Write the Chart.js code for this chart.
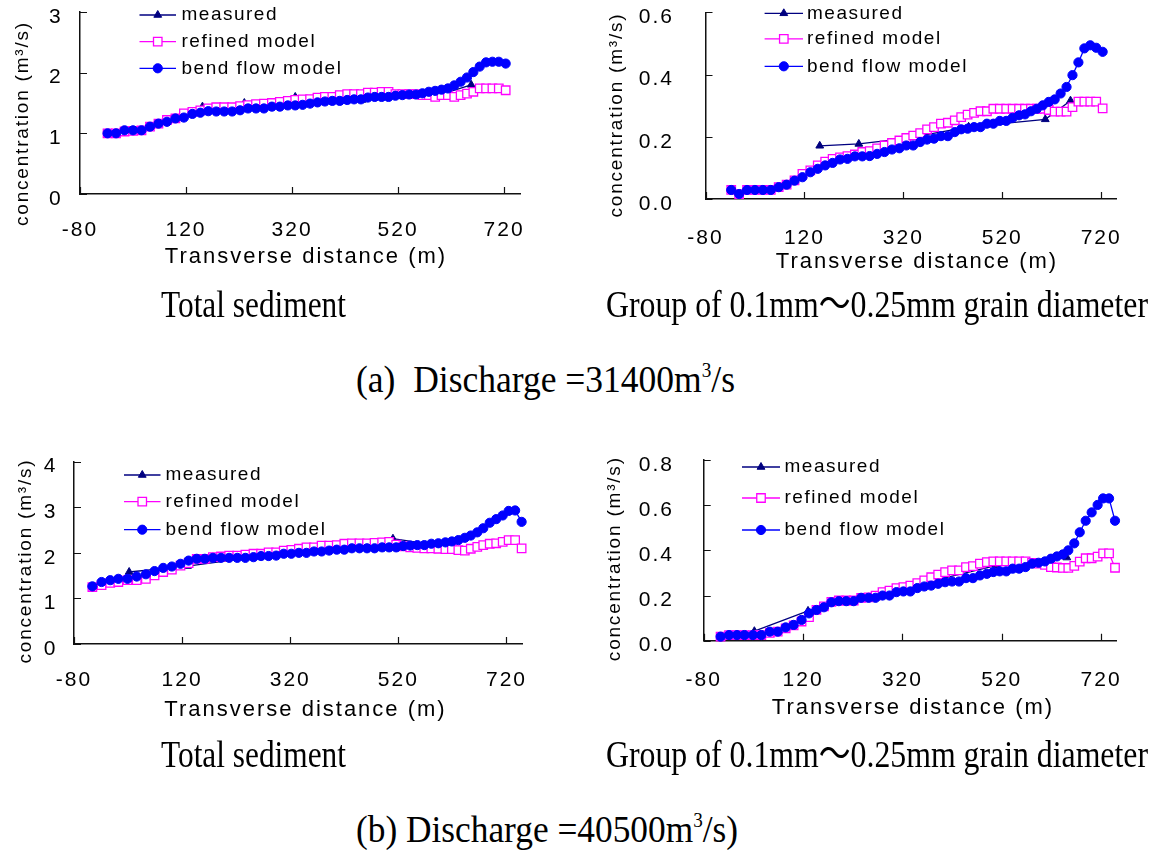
<!DOCTYPE html>
<html>
<head>
<meta charset="utf-8">
<script src="https://cdn.jsdelivr.net/npm/chart.js@4.4.1/dist/chart.umd.min.js"></script>
<style>
html, body { margin: 0; padding: 0; background: #fff; }
#page { position: relative; width: 1156px; height: 850px; overflow: hidden; }
canvas.plot { position: absolute; }
.cap {
    position: absolute;
    font-family: "Liberation Serif", "Noto Sans CJK SC", serif;
    font-size: 37px;
    line-height: 37px;
    white-space: nowrap;
    color: #000;
    transform-origin: 0 0;
}
.cap sup { font-size: 20px; line-height: 0; vertical-align: 0; position: relative; top: -15px; }
</style>
</head>
<body>
<div id="page">
    <canvas id="c1" class="plot" width="578" height="285" style="left:0;top:0"></canvas>
    <canvas id="c2" class="plot" width="578" height="285" style="left:578px;top:0"></canvas>
    <canvas id="c3" class="plot" width="578" height="285" style="left:0;top:450px"></canvas>
    <canvas id="c4" class="plot" width="578" height="285" style="left:578px;top:450px"></canvas>

    <div class="cap" data-w="185" style="left:161px;top:286px">Total sediment</div>
    <div class="cap" data-w="542" style="left:606px;top:286px">Group of 0.1mm～0.25mm grain diameter</div>
    <div class="cap" data-w="379" style="left:356px;top:361px">(a)&nbsp; Discharge =31400m<sup>3</sup>/s</div>
    <div class="cap" data-w="185" style="left:161px;top:736px">Total sediment</div>
    <div class="cap" data-w="542" style="left:606px;top:736px">Group of 0.1mm～0.25mm grain diameter</div>
    <div class="cap" data-w="382" style="left:356px;top:811px">(b) Discharge =40500m<sup>3</sup>/s)</div>
</div>

<script>
// Tick values
const xTicks = [-80, 120, 320, 520, 720];
const yTicksTotalA = [0, 1, 2, 3];
const yTicksGroupA = [0, 0.2, 0.4, 0.6];
const yTicksTotalB = [0, 1, 2, 3, 4];
const yTicksGroupB = [0, 0.2, 0.4, 0.6, 0.8];

// Transverse positions (m) of the model nodes and of the measured verticals
const modelXA = [-28, -12, 4, 20, 36, 52, 68, 84, 100, 116, 132, 147, 162, 177, 192, 207, 222, 237, 252, 267,
    282, 297, 312, 326, 340, 354, 368, 382, 396, 410, 424, 437, 450, 463, 476, 489, 502, 515, 528, 541,
    554, 566, 578, 590, 602, 614, 626, 638, 650, 662, 674, 686, 698, 710, 723];
const modelXB = [-46, -29, -13, 2, 19, 36, 53, 69, 85, 101, 117, 132, 147, 162, 177, 192, 207, 222, 237, 252,
    266, 280, 294, 308, 322, 336, 350, 364, 378, 392, 406, 420, 434, 448, 462, 476, 490, 503, 516, 529,
    542, 555, 568, 581, 594, 607, 619, 631, 643, 654, 666, 677, 689, 701, 713, 724, 736, 748];
const measuredXA = [151, 230, 326, 452, 607, 658];
const measuredXB = [22, 130, 510, 651];

// (a) Discharge 31400 m3/s, total sediment
const measuredTotalA = [1.44, 1.50, 1.60, 1.55, 1.66, 1.80];
const refinedTotalA = [1.00, 1.00, 1.03, 1.04, 1.05, 1.11, 1.16, 1.22, 1.245, 1.33, 1.355, 1.38, 1.41, 1.43, 1.43, 1.43, 1.45, 1.465, 1.48, 1.49,
    1.50, 1.52, 1.535, 1.55, 1.56, 1.565, 1.59, 1.60, 1.60, 1.63, 1.645, 1.645, 1.645, 1.67, 1.67, 1.685, 1.685, 1.645, 1.645, 1.645,
    1.645, 1.63, 1.63, 1.60, 1.63, 1.63, 1.60, 1.63, 1.655, 1.685, 1.74, 1.74, 1.74, 1.74, 1.71];
const bendTotalA = [1.00, 1.00, 1.05, 1.05, 1.05, 1.11, 1.16, 1.19, 1.245, 1.26, 1.32, 1.34, 1.365, 1.36, 1.36, 1.36, 1.38, 1.41, 1.41, 1.41,
    1.44, 1.44, 1.46, 1.46, 1.47, 1.49, 1.51, 1.525, 1.535, 1.535, 1.55, 1.56, 1.56, 1.59, 1.60, 1.60, 1.60, 1.62, 1.63, 1.64,
    1.64, 1.66, 1.685, 1.70, 1.72, 1.74, 1.79, 1.85, 1.92, 2.01, 2.10, 2.17, 2.18, 2.18, 2.15];

// (a) group 0.1mm~0.25mm
const measuredGroupA = [0.171, 0.177, 0.195, 0.232, 0.256, 0.316];
const refinedGroupA = [0.029, 0.016, 0.029, 0.029, 0.029, 0.029, 0.038, 0.046, 0.060, 0.081, 0.092, 0.108, 0.120, 0.129, 0.134, 0.138, 0.143, 0.151, 0.154, 0.163,
    0.172, 0.180, 0.188, 0.196, 0.204, 0.212, 0.224, 0.231, 0.242, 0.245, 0.253, 0.263, 0.271, 0.277, 0.282, 0.282, 0.290, 0.290, 0.290, 0.290,
    0.290, 0.290, 0.290, 0.290, 0.290, 0.286, 0.281, 0.281, 0.281, 0.295, 0.313, 0.313, 0.313, 0.313, 0.291];
const bendGroupA = [0.029, 0.016, 0.029, 0.029, 0.029, 0.029, 0.038, 0.046, 0.059, 0.070, 0.086, 0.097, 0.108, 0.116, 0.127, 0.129, 0.137, 0.137, 0.138, 0.145,
    0.151, 0.159, 0.163, 0.172, 0.172, 0.183, 0.191, 0.194, 0.202, 0.202, 0.215, 0.224, 0.226, 0.231, 0.231, 0.242, 0.242, 0.251, 0.251, 0.261,
    0.269, 0.272, 0.282, 0.290, 0.301, 0.312, 0.320, 0.339, 0.360, 0.398, 0.439, 0.484, 0.494, 0.486, 0.473];

// (b) Discharge 40500 m3/s, total sediment
const measuredTotalB = [1.58, 1.71, 2.31, 2.06];
const refinedTotalB = [1.25, 1.29, 1.34, 1.36, 1.40, 1.40, 1.43, 1.505, 1.58, 1.63, 1.72, 1.775, 1.87, 1.87, 1.905, 1.92, 1.94, 1.94, 1.96, 1.98,
    1.98, 2.01, 2.01, 2.05, 2.065, 2.09, 2.12, 2.12, 2.16, 2.16, 2.17, 2.20, 2.21, 2.21, 2.21, 2.22, 2.23, 2.24, 2.18, 2.14,
    2.12, 2.11, 2.10, 2.10, 2.09, 2.08, 2.08, 2.06, 2.05, 2.09, 2.13, 2.17, 2.20, 2.21, 2.24, 2.28, 2.28, 2.10];
const bendTotalB = [1.265, 1.36, 1.40, 1.43, 1.43, 1.48, 1.53, 1.60, 1.67, 1.70, 1.76, 1.83, 1.87, 1.87, 1.89, 1.89, 1.89, 1.89, 1.89, 1.905,
    1.93, 1.93, 1.94, 1.98, 1.98, 2.00, 2.00, 2.03, 2.03, 2.05, 2.07, 2.07, 2.10, 2.10, 2.10, 2.10, 2.12, 2.12, 2.12, 2.15,
    2.16, 2.17, 2.17, 2.20, 2.21, 2.23, 2.25, 2.28, 2.33, 2.38, 2.45, 2.54, 2.66, 2.74, 2.82, 2.92, 2.93, 2.68];

// (b) group 0.1mm~0.25mm
const measuredGroupB = [0.042, 0.132, 0.333, 0.368];
const refinedGroupB = [0.018, 0.025, 0.025, 0.025, 0.025, 0.025, 0.035, 0.040, 0.055, 0.068, 0.085, 0.104, 0.136, 0.152, 0.172, 0.178, 0.178, 0.178, 0.190, 0.192,
    0.200, 0.215, 0.222, 0.233, 0.237, 0.244, 0.255, 0.267, 0.281, 0.293, 0.304, 0.311, 0.311, 0.326, 0.330, 0.341, 0.348, 0.351, 0.351, 0.351,
    0.351, 0.351, 0.351, 0.345, 0.341, 0.336, 0.326, 0.324, 0.322, 0.322, 0.331, 0.350, 0.365, 0.365, 0.372, 0.387, 0.387, 0.323];
const bendGroupB = [0.018, 0.025, 0.025, 0.025, 0.025, 0.025, 0.040, 0.040, 0.059, 0.070, 0.092, 0.121, 0.136, 0.148, 0.170, 0.175, 0.175, 0.175, 0.190, 0.190,
    0.190, 0.200, 0.200, 0.215, 0.218, 0.218, 0.233, 0.240, 0.244, 0.252, 0.259, 0.262, 0.262, 0.277, 0.277, 0.289, 0.296, 0.304, 0.307, 0.307,
    0.319, 0.319, 0.326, 0.341, 0.345, 0.351, 0.363, 0.373, 0.382, 0.400, 0.431, 0.480, 0.531, 0.568, 0.601, 0.630, 0.630, 0.531];

const axisColor = '#111';
const tickFont = { family: 'Liberation Sans', size: 21 };

Chart.defaults.font.family = 'Liberation Sans';
Chart.defaults.color = '#000';

const toPoints = (xs, ys) => xs.map((x, i) => ({ x: x, y: ys[i] }));

// inside tick marks, axis titles and the line+marker legend
function framePlugin(s) {
    return {
        id: 'frame',
        beforeDraw(chart) {
            chart.ctx.letterSpacing = '2px';
        },
        afterDraw(chart) {
            const { ctx, chartArea: a, scales: { x, y } } = chart;
            ctx.save();
            ctx.strokeStyle = axisColor;
            ctx.lineWidth = 1.2;
            ctx.beginPath();
            xTicks.forEach(v => {
                const px = Math.round(x.getPixelForValue(v)) + 0.5;
                ctx.moveTo(px, a.bottom);
                ctx.lineTo(px, a.bottom - 7);
            });
            s.yTicks.forEach(v => {
                const py = Math.round(y.getPixelForValue(v)) + 0.5;
                ctx.moveTo(a.left, py);
                ctx.lineTo(a.left + 7, py);
            });
            ctx.stroke();

            ctx.fillStyle = '#000';
            ctx.textAlign = 'center';
            ctx.textBaseline = 'middle';
            ctx.letterSpacing = '2px';
            ctx.font = '22px "Liberation Sans"';
            ctx.fillText('Transverse distance (m)', s.xTitle[0], s.xTitle[1]);

            ctx.save();
            ctx.translate(s.yTitle[0], s.yTitle[1]);
            ctx.rotate(-Math.PI / 2);
            ctx.letterSpacing = '1.8px';
            ctx.font = '19px "Liberation Sans"';
            ctx.fillText('concentration (m³/s)', 0, 0);
            ctx.restore();

            const lg = s.legend;
            ctx.letterSpacing = '1.5px';
            ctx.font = '19px "Liberation Sans"';
            ctx.textAlign = 'left';
            chart.data.datasets.forEach((ds, i) => {
                const ry = lg.rows[i];
                ctx.strokeStyle = ds.borderColor;
                ctx.lineWidth = ds.borderWidth;
                ctx.beginPath();
                ctx.moveTo(lg.x0, ry);
                ctx.lineTo(lg.x1, ry);
                ctx.stroke();
                ctx.fillStyle = ds.pointBackgroundColor;
                ctx.lineWidth = ds.pointBorderWidth;
                Chart.helpers.drawPoint(ctx, {
                    pointStyle: ds.pointStyle, radius: ds.pointRadius,
                    rotation: 0, borderWidth: ds.pointBorderWidth
                }, (lg.x0 + lg.x1) / 2, ry);
                ctx.fillStyle = '#000';
                ctx.fillText(ds.label, lg.tx, ry);
            });
            ctx.restore();
        }
    };
}

function makeChart(s) {
    const zeroPad = sc => { sc.paddingLeft = sc.paddingRight = sc.paddingTop = sc.paddingBottom = 0; };
    return new Chart(document.getElementById(s.id), {
        type: 'line',
        data: {
            datasets: [{
                label: 'measured',
                data: toPoints(s.measuredX, s.measured),
                borderColor: '#000080',
                pointBackgroundColor: '#000080',
                borderWidth: 1.3,
                pointBorderWidth: 1,
                pointStyle: 'triangle',
                pointRadius: 4.5,
                order: 3,
                clip: 8
            }, {
                label: 'refined model',
                data: toPoints(s.modelX, s.refined),
                borderColor: '#ff00ff',
                pointBackgroundColor: '#ffffff',
                borderWidth: 1.3,
                pointBorderWidth: 1.3,
                pointStyle: 'rect',
                pointRadius: 6,
                order: 2,
                clip: 8
            }, {
                label: 'bend flow model',
                data: toPoints(s.modelX, s.bend),
                borderColor: '#0000ff',
                pointBackgroundColor: '#0000ff',
                borderWidth: 1.3,
                pointBorderWidth: 1,
                pointStyle: 'circle',
                pointRadius: 4.6,
                order: 1,
                clip: 8
            }]
        },
        options: {
            responsive: false,
            animation: false,
            events: [],
            layout: { padding: s.pad },
            plugins: { legend: { display: false }, tooltip: { enabled: false } },
            scales: {
                x: {
                    type: 'linear',
                    min: -80,
                    max: 750,
                    afterBuildTicks: sc => { sc.ticks = xTicks.map(v => ({ value: v })); },
                    afterFit: sc => { sc.height = s.xh; zeroPad(sc); },
                    grid: { display: false, drawTicks: false },
                    border: { color: axisColor, width: 1.5 },
                    ticks: { font: tickFont, color: '#000', padding: s.xPad, maxRotation: 0, autoSkip: false }
                },
                y: {
                    type: 'linear',
                    min: 0,
                    max: s.yTicks[s.yTicks.length - 1],
                    afterBuildTicks: sc => { sc.ticks = s.yTicks.map(v => ({ value: v })); },
                    afterFit: sc => { sc.width = s.yw; zeroPad(sc); },
                    grid: { display: false, drawTicks: false },
                    border: { color: axisColor, width: 1.5 },
                    ticks: {
                        font: tickFont, color: '#000', padding: s.yPad, labelOffset: 5,
                        callback: v => v.toFixed(s.decimals)
                    }
                }
            }
        },
        plugins: [framePlugin(s)]
    });
}

makeChart({
    id: 'c1', yTicks: yTicksTotalA, decimals: 0,
    measuredX: measuredXA, measured: measuredTotalA, modelX: modelXA, refined: refinedTotalA, bend: bendTotalA,
    pad: { left: 0, top: 12, right: 58, bottom: 0 }, yw: 80, xh: 91, xPad: 23.4, yPad: 17.4,
    xTitle: [306, 257], yTitle: [22.5, 123.5],
    legend: { x0: 139.5, x1: 176, tx: 181.5, rows: [15, 41.7, 68.3] }
});
makeChart({
    id: 'c2', yTicks: yTicksGroupA, decimals: 1,
    measuredX: measuredXA, measured: measuredGroupA, modelX: modelXA, refined: refinedGroupA, bend: bendGroupA,
    pad: { left: 0, top: 12.3, right: 40, bottom: 0 }, yw: 127.5, xh: 86, xPad: 26.4, yPad: 31.5,
    xTitle: [339, 262], yTitle: [39, 115],
    legend: { x0: 186.6, x1: 225, tx: 229, rows: [13.3, 38.8, 66.3] }
});
makeChart({
    id: 'c3', yTicks: yTicksTotalB, decimals: 0,
    measuredX: measuredXB, measured: measuredTotalB, modelX: modelXB, refined: refinedTotalB, bend: bendTotalB,
    pad: { left: 0, top: 11.7, right: 55.3, bottom: 0 }, yw: 74, xh: 91, xPad: 23.4, yPad: 16.6,
    xTitle: [305.5, 260], yTitle: [26, 111],
    legend: { x0: 124, x1: 160.5, tx: 165.5, rows: [25, 51.7, 79.7] }
});
makeChart({
    id: 'c4', yTicks: yTicksGroupB, decimals: 1,
    measuredX: measuredXB, measured: measuredGroupB, modelX: modelXB, refined: refinedGroupB, bend: bendGroupB,
    pad: { left: 0, top: 10, right: 40, bottom: 0 }, yw: 125.7, xh: 94.3, xPad: 26.7, yPad: 29.7,
    xTitle: [335, 258], yTitle: [37, 108.7],
    legend: { x0: 164, x1: 202, tx: 206.5, rows: [17, 48, 80] }
});

// squeeze captions to the width they take in the figure
document.fonts.ready.then(() => {
    document.querySelectorAll('.cap').forEach(el => {
        const w = el.getBoundingClientRect().width;
        el.style.transform = 'scaleX(' + (el.dataset.w / w) + ')';
    });
});
</script>
</body>
</html>
